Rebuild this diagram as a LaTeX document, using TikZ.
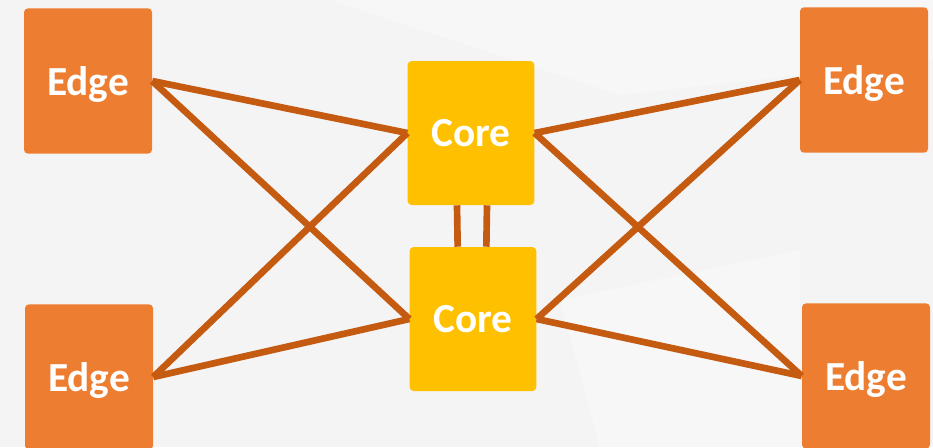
\documentclass[tikz,border=0pt]{standalone}
\usepackage{fontspec}
\setsansfont{Carlito}
\definecolor{edgefill}{HTML}{ED7D31}
\definecolor{corefill}{HTML}{FFC000}
\definecolor{linkcol}{HTML}{C55A11}
\definecolor{slidebg}{HTML}{F4F4F4}
\begin{document}
\begin{tikzpicture}[x=.75pt, y=-.75pt, font=\sffamily\bfseries\fontsize{31}{36}\selectfont,
  edgebox/.style={fill=edgefill, text=white, rounded corners=3pt, minimum width=96pt, minimum height=109pt, inner sep=0pt, text depth=0pt},
  corebox/.style={fill=corefill, text=white, rounded corners=3pt, minimum width=95pt, minimum height=108pt, inner sep=0pt, text depth=0pt},
  link/.style={draw=linkcol, line width=5pt}]
\useasboundingbox (0,0) rectangle (933,447);
\clip (0,0) rectangle (933,447);
\fill[slidebg] (0,0) rectangle (933,447);
\fill[white, opacity=.35] (330,0) -- (620,95) -- (933,60) -- (933,0) -- cycle;
\fill[white, opacity=.3] (560,300) -- (800,250) -- (800,447) -- (600,447) -- cycle;

\node[edgebox] (edgeTL) at (88,81)  {Edge};
\node[edgebox] (edgeBL) at (89,377) {Edge};
\node[edgebox] (edgeTR) at (864,80) {Edge};
\node[edgebox] (edgeBR) at (866,376) {Edge};

\node[corebox] (coreT) at (471,133) {Core};
\node[corebox] (coreB) at (473,319) {Core};

\draw[link] (edgeTL.east) -- (coreT.west);
\draw[link] (edgeTL.east) -- (coreB.west);
\draw[link] (edgeBL.east) -- (coreT.west);
\draw[link] (edgeBL.east) -- (coreB.west);
\draw[link] (edgeTR.west) -- (coreT.east);
\draw[link] (edgeTR.west) -- (coreB.east);
\draw[link] (edgeBR.west) -- (coreT.east);
\draw[link] (edgeBR.west) -- (coreB.east);

\draw[link] ([xshift=-10.5pt]coreT.south) -- ([xshift=-11.5pt]coreB.north);
\draw[link] ([xshift=12pt]coreT.south) -- ([xshift=10pt]coreB.north);
\end{tikzpicture}
\end{document}
